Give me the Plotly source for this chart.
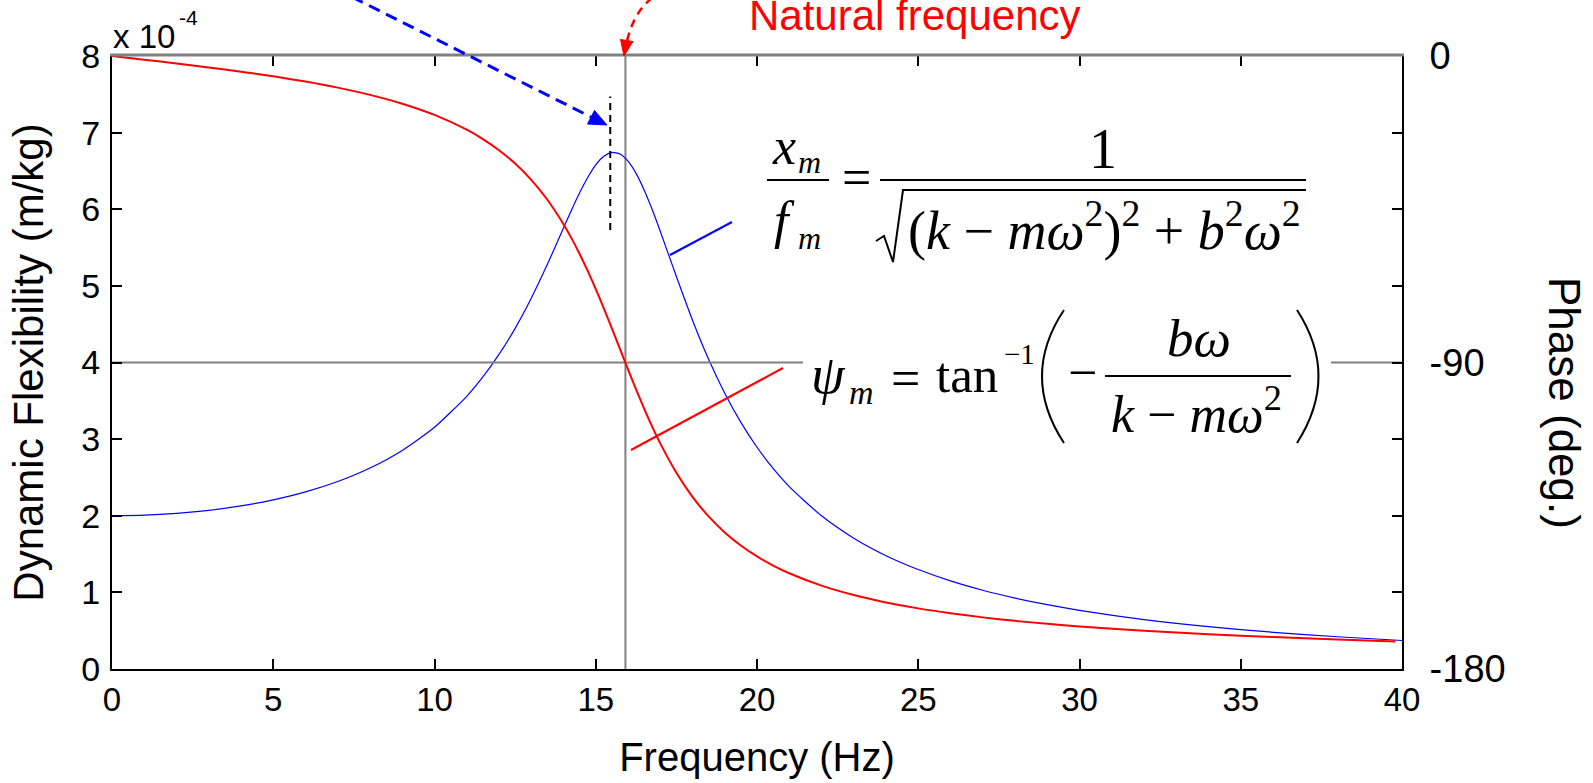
import plotly.graph_objects as go

# ---------------- data ----------------
freq = [0, 1, 2, 3, 4, 5, 6, 7, 8, 9, 10, 11, 11.5, 12, 12.5, 13, 13.5, 14, 14.25, 14.5,
        14.75, 15, 15.25, 15.5, 15.75, 16, 16.25, 16.5, 16.75, 17, 17.5, 18, 18.5, 19, 19.5,
        20, 20.5, 21, 22, 23, 24, 25, 26, 27, 28, 29, 30, 32, 34, 36, 38, 40]
flex_e4 = [2.000, 2.008, 2.031, 2.070, 2.128, 2.207, 2.311, 2.447, 2.623, 2.853, 3.155,
           3.559, 3.811, 4.105, 4.446, 4.839, 5.281, 5.754, 5.990, 6.214, 6.414, 6.579,
           6.691, 6.741, 6.720, 6.627, 6.468, 6.252, 5.996, 5.713, 5.122, 4.552, 4.041,
           3.598, 3.218, 2.894, 2.618, 2.381, 1.999, 1.707, 1.479, 1.298, 1.150, 1.028,
           0.926, 0.839, 0.765, 0.645, 0.552, 0.479, 0.421, 0.372]
phase_freq = freq[:-1] + [39.8]
phase_deg = [0, -1.08, -2.19, -3.36, -4.60, -5.97, -7.51, -9.29, -11.41, -14.00, -17.30,
             -21.65, -24.40, -27.67, -31.59, -36.36, -42.21, -49.39, -53.55, -58.13, -63.09,
             -68.44, -74.10, -80.00, -86.02, -92.02, -97.90, -103.52, -108.82, -113.74,
             -122.36, -129.44, -135.20, -139.89, -143.74, -146.94, -149.62, -151.89, -155.52,
             -158.28, -160.45, -162.20, -163.63, -164.84, -165.86, -166.74, -167.51, -168.79,
             -169.81, -170.64, -171.34, -171.90]
natural_freq = 15.92
peak_freq = 15.45
x_ticks = [0, 5, 10, 15, 20, 25, 30, 35, 40]
y_ticks = [0, 1, 2, 3, 4, 5, 6, 7, 8]
phase_ticks = [0, -22.5, -45, -67.5, -90, -112.5, -135, -157.5, -180]
phase_labels = ["0", " ", " ", " ", "-90", " ", " ", " ", "-180"]

# ---------------- geometry helpers (page pixels -> paper) ----------------
L, R, T, B = 112, 1402, 56, 669
W, H = R - L, B - T


def PX(x):
    return (x - L) / W


def PY(y):
    return (B - y) / H


def pth(pts, close=False):
    s = "M " + " L ".join(f"{PX(x):.5f},{PY(y):.5f}" for x, y in pts)
    return s + (" Z" if close else "")


def qpath(p0, c, p1):
    return (f"M {PX(p0[0]):.5f},{PY(p0[1]):.5f} Q {PX(c[0]):.5f},{PY(c[1]):.5f} "
            f"{PX(p1[0]):.5f},{PY(p1[1]):.5f}")


SERIF = "Liberation Serif"
SANS = "Liberation Sans"


def txt(text, x, y, size, color="black", family=SERIF, xanchor="center",
        yanchor="middle", angle=0):
    return dict(text=text, x=PX(x), y=PY(y), xref="paper", yref="paper",
                showarrow=False, font=dict(family=family, size=size, color=color),
                xanchor=xanchor, yanchor=yanchor, textangle=angle, borderpad=0)


fig = go.Figure()

# reference lines
fig.add_trace(go.Scatter(x=[natural_freq, natural_freq], y=[0, 8], mode="lines",
                         line=dict(color="#808080", width=2), hoverinfo="skip",
                         showlegend=False))
fig.add_trace(go.Scatter(x=[0, 40], y=[-90, -90], yaxis="y2", mode="lines",
                         line=dict(color="#808080", width=2), hoverinfo="skip",
                         showlegend=False))
# magnitude
fig.add_trace(go.Scatter(x=freq, y=flex_e4, mode="lines",
                         line=dict(color="#0000ff", width=1.2, shape="spline", smoothing=0.6),
                         showlegend=False))
# phase
fig.add_trace(go.Scatter(x=phase_freq, y=phase_deg, yaxis="y2", mode="lines",
                         line=dict(color="#ff0000", width=2, shape="spline", smoothing=0.6),
                         showlegend=False))

shapes = []
# top border in gray (covers mirrored black line)
shapes.append(dict(type="line", xref="paper", yref="paper", x0=PX(L - 2), x1=PX(R + 2),
                   y0=PY(T - 1), y1=PY(T - 1), line=dict(color="#808080", width=3),
                   layer="above"))
# mask behind psi formula
shapes.append(dict(type="rect", xref="paper", yref="paper", x0=PX(803), x1=PX(1331),
                   y0=PY(368), y1=PY(358), line=dict(width=0), fillcolor="white",
                   layer="above"))
# peak dashed line
shapes.append(dict(type="line", xref="x", yref="y", x0=peak_freq, x1=peak_freq,
                   y0=5.73, y1=7.47, line=dict(color="black", width=2, dash="7px,5px"),
                   layer="above"))
# leader lines
shapes.append(dict(type="line", xref="paper", yref="paper", x0=PX(670), y0=PY(255),
                   x1=PX(732), y1=PY(222), line=dict(color="#0000ff", width=2), layer="above"))
shapes.append(dict(type="line", xref="paper", yref="paper", x0=PX(631), y0=PY(450),
                   x1=PX(783), y1=PY(368), line=dict(color="#ff0000", width=2), layer="above"))
# blue dashed arrow
shapes.append(dict(type="line", xref="paper", yref="paper", x0=PX(352), x1=PX(591),
                   y0=PY(-3), y1=PY(117), line=dict(color="#0000ff", width=3, dash="12px,7px"),
                   layer="above"))
shapes.append(dict(type="path", xref="paper", yref="paper",
                   path=pth([(607, 125), (587.5, 124.0), (594.5, 110.5)], close=True),
                   fillcolor="#0000ff", line=dict(color="#0000ff", width=1), layer="above"))
# red dashed curved arrow
shapes.append(dict(type="path", xref="paper", yref="paper",
                   path=qpath((652, -2), (634, 12), (627, 41)),
                   line=dict(color="#ff0000", width=2.5, dash="8px,6px"), layer="above"))
shapes.append(dict(type="path", xref="paper", yref="paper",
                   path=pth([(624, 56), (620.5, 39.5), (633, 41.5)], close=True),
                   fillcolor="#ff0000", line=dict(color="#ff0000", width=1), layer="above"))
# formula 1 bars and radical
shapes.append(dict(type="line", xref="paper", yref="paper", x0=PX(767), x1=PX(829),
                   y0=PY(180), y1=PY(180), line=dict(color="black", width=2), layer="above"))
shapes.append(dict(type="line", xref="paper", yref="paper", x0=PX(880), x1=PX(1306),
                   y0=PY(180), y1=PY(180), line=dict(color="black", width=2), layer="above"))
shapes.append(dict(type="path", xref="paper", yref="paper",
                   path=pth([(876, 241), (884, 236), (893, 262), (903, 190), (1306, 190)]),
                   line=dict(color="black", width=2), layer="above"))
# formula 2 fraction bar and parentheses
shapes.append(dict(type="line", xref="paper", yref="paper", x0=PX(1105), x1=PX(1291),
                   y0=PY(376), y1=PY(376), line=dict(color="black", width=2), layer="above"))
shapes.append(dict(type="path", xref="paper", yref="paper",
                   path=qpath((1064, 310), (1020, 376), (1064, 443)),
                   line=dict(color="black", width=2), layer="above"))
shapes.append(dict(type="path", xref="paper", yref="paper",
                   path=qpath((1297, 310), (1340, 376), (1297, 443)),
                   line=dict(color="black", width=2), layer="above"))

ann = []
FS = 52
# formula 1
ann.append(txt("<i>x</i>", 784, 146, FS))
ann.append(txt("<i>m</i>", 809, 162, 32))
ann.append(txt("<i>f</i>", 784, 221, FS))
ann.append(txt("<i>m</i>", 809, 238, 32))
ann.append(txt("=", 856, 177, FS))
ann.append(txt("1", 1103, 149, 56))
ann.append(txt("(<i>k</i> − <i>mω</i><sup>2</sup>)<sup>2</sup> + <i>b</i><sup>2</sup><i>ω</i><sup>2</sup>",
               1104, 226, 54))
# formula 2
ann.append(txt("<i>ψ</i>", 828, 375, 54))
ann.append(txt("<i>m</i>", 861, 392, 34))
ann.append(txt("=", 905, 378, FS))
ann.append(txt("tan", 967, 375, 51))
ann.append(txt("−1", 1019, 354, 29))
ann.append(txt("−", 1082, 372, FS))
ann.append(txt("<i>bω</i>", 1199, 338, 53))
ann.append(txt("<i>k</i> − <i>mω</i><sup>2</sup>", 1196, 410, 52))
# other texts
ann.append(txt("Natural frequency", 748, 15, 42, color="#ff0000", family=SANS,
               xanchor="left"))
ann.append(txt("x 10", 112, 36, 33, family=SANS, xanchor="left"))
ann.append(txt("-4", 188, 17, 21, family=SANS))
ann.append(txt("Phase (deg.)", 1565, 403, 44, family=SANS, angle=90))

axis_common = dict(showgrid=False, zeroline=False, ticks="inside", ticklen=10,
                   tickwidth=1.5, tickcolor="black", showline=True, linecolor="black",
                   linewidth=2)

fig.update_layout(
    width=1593, height=783,
    margin=dict(l=L, r=1593 - R, t=T, b=783 - B),
    paper_bgcolor="white", plot_bgcolor="white",
    showlegend=False,
    xaxis=dict(range=[0, 40], tickvals=x_ticks, mirror="ticks",
               tickfont=dict(family=SANS, size=33, color="black"),
               ticklabelstandoff=0,
               title=dict(text="Frequency (Hz)", font=dict(family=SANS, size=40, color="black"),
                          standoff=26),
               **axis_common),
    yaxis=dict(range=[0, 8], tickvals=y_ticks,
               tickfont=dict(family=SANS, size=34, color="black"),
               ticklabelstandoff=3,
               title=dict(text="Dynamic Flexibility (m/kg)",
                          font=dict(family=SANS, size=42, color="black"), standoff=25),
               **axis_common),
    yaxis2=dict(range=[-180, 0], overlaying="y", side="right", tickvals=phase_ticks,
                ticktext=phase_labels,
                tickfont=dict(family=SANS, size=38, color="black"),
                ticklabelstandoff=18, **axis_common),
    shapes=shapes,
    annotations=ann,
)

fig.write_html("out.html")
